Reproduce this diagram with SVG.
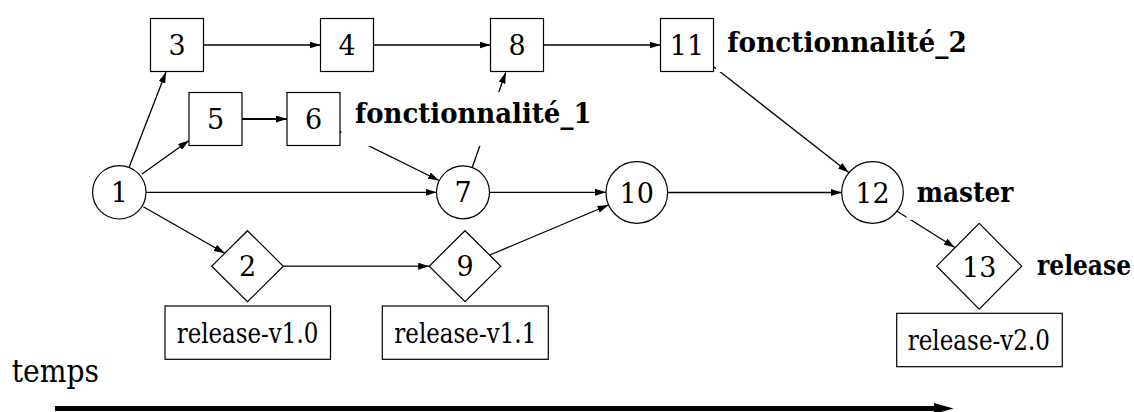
<svg xmlns="http://www.w3.org/2000/svg" width="1134" height="412" viewBox="0 0 1134 412">
  <defs>
    <marker id="arrow" markerUnits="userSpaceOnUse" markerWidth="11" markerHeight="7" refX="11" refY="3.5" orient="auto">
      <path d="M0,0 L11,3.5 L0,7 z" fill="#000"/>
    </marker>
    <style>
      .shape { fill: #fff; stroke: #000; stroke-width: 1.2; }
      .edge { fill: none; stroke: #000; stroke-width: 1.3; marker-end: url(#arrow); }
      .serif { font-family: "DejaVu Serif", "Liberation Serif", serif; fill: #000; }
      .num { font-size: 27px; text-anchor: middle; }
      .tag { font-size: 27px; }
      .branch { font-size: 27px; font-weight: bold; }
      .labelbg { fill: #fff; stroke: none; }
    </style>
  </defs>

  <rect width="1134" height="412" fill="#fff"/>

  <!-- commit connectors -->
  <g id="connectors">
    <line class="edge" x1="129.3" y1="166.7" x2="166" y2="72"/>
    <line class="edge" x1="141.7" y1="174.3" x2="189" y2="140.5"/>
    <line class="edge" x1="146" y1="192.3" x2="436.5" y2="192.3"/>
    <line class="edge" x1="143.3" y1="206.7" x2="224.8" y2="253.3"/>
    <line class="edge" x1="203.7" y1="45" x2="320.5" y2="45"/>
    <line class="edge" x1="373.5" y1="45" x2="490.5" y2="45"/>
    <line class="edge" x1="543.5" y1="45" x2="660.5" y2="45"/>
    <line class="edge" x1="242" y1="119" x2="287" y2="119" style="stroke-width:2.2"/>
    <line class="edge" x1="340" y1="131.7" x2="439" y2="180.5"/>
    <line class="edge" x1="472.3" y1="167.3" x2="505.7" y2="72.5"/>
    <line class="edge" x1="489.5" y1="192.3" x2="606" y2="192.3"/>
    <line class="edge" x1="490" y1="255" x2="608.5" y2="205"/>
    <line class="edge" x1="283.3" y1="266.2" x2="429.2" y2="266.2"/>
    <line class="edge" x1="667.6" y1="192.5" x2="841.7" y2="192.5"/>
    <line class="edge" x1="714" y1="67" x2="848.8" y2="172.5"/>
    <line class="edge" x1="896.7" y1="211" x2="954.9" y2="247.5"/>
  </g>

  <!-- commits -->
  <g id="n1"><circle class="shape" cx="119.3" cy="192.3" r="26.7"/><text class="serif num" x="119.3" y="202.3">1</text></g>
  <g id="n3"><rect class="shape" x="150.5" y="18.5" width="53" height="53"/><text class="serif num" x="177" y="55.2">3</text></g>
  <g id="n4"><rect class="shape" x="320.5" y="18.5" width="53" height="53"/><text class="serif num" x="347" y="55.2">4</text></g>
  <g id="n8"><rect class="shape" x="490.5" y="18.5" width="53" height="53"/><text class="serif num" x="517" y="55.2">8</text></g>
  <g id="n11"><rect class="shape" x="660.5" y="18.5" width="53" height="53"/><text class="serif num" x="687" y="55.2">11</text></g>
  <g id="n5"><rect class="shape" x="189" y="92.5" width="53" height="53"/><text class="serif num" x="215.5" y="129.2">5</text></g>
  <g id="n6"><rect class="shape" x="287" y="92.5" width="53" height="53"/><text class="serif num" x="313.5" y="129.2">6</text></g>
  <g id="n7"><circle class="shape" cx="463" cy="192.3" r="26.5"/><text class="serif num" x="463" y="202.3">7</text></g>
  <g id="n10"><circle class="shape" cx="636.8" cy="192.5" r="30.8"/><text class="serif num" x="636.8" y="202.5">10</text></g>
  <g id="n12"><circle class="shape" cx="872.5" cy="192.5" r="30.8"/><text class="serif num" x="872.5" y="202.5">12</text></g>
  <g id="n2"><polygon class="shape" points="247.5,230.7 283.3,266.2 247.5,301.7 211.7,266.2"/><text class="serif num" x="247.5" y="276.2">2</text></g>
  <g id="n9"><polygon class="shape" points="465,230.7 500.8,266.2 465,301.7 429.2,266.2"/><text class="serif num" x="465" y="276.2">9</text></g>
  <g id="n13"><polygon class="shape" points="979.2,223.3 1021.7,266.2 979.2,309.1 936.7,266.2"/><text class="serif num" x="979.2" y="276.5">13</text></g>

  <!-- release tags -->
  <g id="tag-v1-0"><rect class="shape" x="165" y="306" width="165.5" height="53.3"/><text class="serif tag" x="176.7" y="343.3" textLength="141.6" lengthAdjust="spacingAndGlyphs">release-v1.0</text></g>
  <g id="tag-v1-1"><rect class="shape" x="382.3" y="306" width="166" height="53.3"/><text class="serif tag" x="394.3" y="343.3" textLength="142" lengthAdjust="spacingAndGlyphs">release-v1.1</text></g>
  <g id="tag-v2-0"><rect class="shape" x="896.7" y="313.3" width="165.6" height="53.4"/><text class="serif tag" x="907.7" y="350.3" textLength="142.3" lengthAdjust="spacingAndGlyphs">release-v2.0</text></g>

  <!-- branch names (opaque background hides the edges behind them) -->
  <g id="branch-f1"><rect class="labelbg" x="341.5" y="92" width="263.5" height="54"/><text class="serif branch" x="355" y="123.3" textLength="236.5" lengthAdjust="spacingAndGlyphs">fonctionnalité_1</text></g>
  <g id="branch-f2"><rect class="labelbg" x="716" y="18" width="265" height="54"/><text class="serif branch" x="727.3" y="51.7" textLength="239.4" lengthAdjust="spacingAndGlyphs">fonctionnalité_2</text></g>
  <g id="branch-master"><rect class="labelbg" x="906.5" y="165.2" width="120" height="54.6"/><text class="serif branch" x="916.7" y="202.3" textLength="96.6" lengthAdjust="spacingAndGlyphs">master</text></g>
  <g id="branch-release"><text class="serif branch" x="1131" y="275.3" text-anchor="end" textLength="94" lengthAdjust="spacingAndGlyphs">release</text></g>

  <!-- time axis -->
  <g id="time-axis">
    <text class="serif" x="11.7" y="382.3" font-size="32" textLength="87.3" lengthAdjust="spacingAndGlyphs">temps</text>
    <line x1="55" y1="408.5" x2="936" y2="408.5" stroke="#000" stroke-width="5"/>
    <polygon points="934,403 953.5,408.5 934,414" fill="#000"/>
  </g>
</svg>
